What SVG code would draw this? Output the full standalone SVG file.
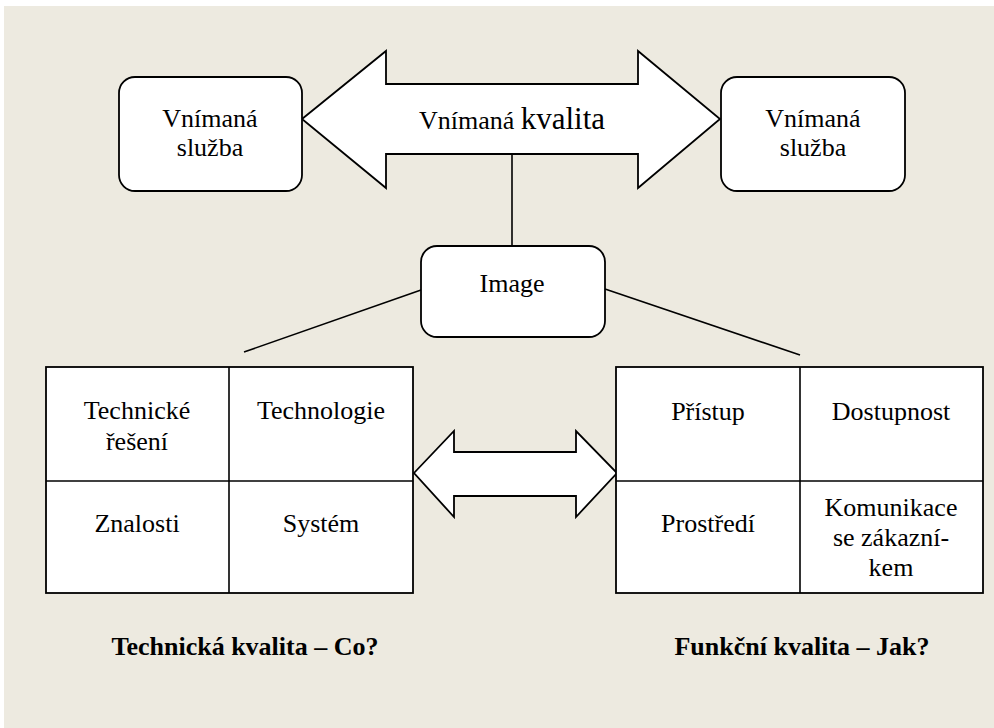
<svg xmlns="http://www.w3.org/2000/svg" width="994" height="728" viewBox="0 0 994 728" font-family="'Liberation Serif', 'DejaVu Serif', serif">
<style>
.bg{fill:#EDEAE0}
.shape{fill:#fff;stroke:#000;stroke-width:1.8}
.ln{fill:none;stroke:#000;stroke-width:1.6}
.t{font-family:'Liberation Serif','DejaVu Serif',serif;font-size:26px;fill:#000;text-anchor:middle}
.b{font-weight:bold}
</style>
<rect x="0" y="0" width="994" height="728" fill="#fff"/>
<rect class="bg" x="4" y="6" width="990" height="722"/>
<g id="connectors">
<line class="ln" x1="512" y1="154" x2="512" y2="246"/>
<line class="ln" x1="421" y1="290" x2="244" y2="352"/>
<line class="ln" x1="605" y1="289" x2="800" y2="355"/>
</g>
<g id="kvalita-arrow">
<polygon class="shape" points="302,119 386,51 386,84 638,84 638,51 720,119 638,188 638,154 386,154 386,188"/>
<text class="t" x="512" y="129">Vnímaná <tspan font-size="31">kvalita</tspan></text>
</g>
<g id="sluzba-left">
<rect class="shape" x="119" y="77" width="183" height="114" rx="16"/>
<text class="t" x="210" y="127">Vnímaná</text>
<text class="t" x="210" y="156">služba</text>
</g>
<g id="sluzba-right">
<rect class="shape" x="721" y="77" width="184" height="114" rx="16"/>
<text class="t" x="813" y="127">Vnímaná</text>
<text class="t" x="813" y="156">služba</text>
</g>
<g id="image">
<rect class="shape" x="421" y="246" width="184" height="91" rx="16"/>
<text class="t" x="512" y="292">Image</text>
</g>
<g id="mid-arrow">
<polygon class="shape" points="414,473 454,431 454,452 576,452 576,431 617,473 576,517 576,496 454,496 454,517"/>
</g>
<g id="technicka">
<rect class="shape" x="46" y="367" width="367" height="226"/>
<line class="ln" x1="229" y1="367" x2="229" y2="593"/>
<line class="ln" x1="46" y1="481" x2="413" y2="481"/>
<text class="t" x="137" y="419">Technické</text>
<text class="t" x="137" y="450">řešení</text>
<text class="t" x="321" y="419">Technologie</text>
<text class="t" x="137" y="532">Znalosti</text>
<text class="t" x="321" y="532">Systém</text>
</g>
<g id="funkcni">
<rect class="shape" x="616" y="367" width="367" height="226"/>
<line class="ln" x1="800" y1="367" x2="800" y2="593"/>
<line class="ln" x1="616" y1="481" x2="983" y2="481"/>
<text class="t" x="708" y="420">Přístup</text>
<text class="t" x="891" y="420">Dostupnost</text>
<text class="t" x="708" y="532">Prostředí</text>
<text class="t" x="891" y="516">Komunikace</text>
<text class="t" x="891" y="546">se zákazní-</text>
<text class="t" x="891" y="576">kem</text>
</g>
<g id="labels">
<text class="t b" x="245" y="655">Technická kvalita – Co?</text>
<text class="t b" x="802" y="655">Funkční kvalita – Jak?</text>
</g>
</svg>
